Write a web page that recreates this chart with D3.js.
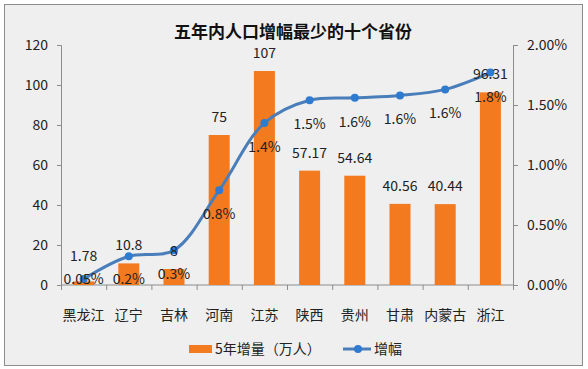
<!DOCTYPE html>
<html><head><meta charset="utf-8">
<script src="https://cdn.jsdelivr.net/npm/d3@7"></script>
<style>
html,body{margin:0;padding:0;background:#fff;}
svg{display:block;font-family:"Noto Sans CJK SC","Noto Sans",sans-serif;}
</style></head>
<body><svg id="c" width="588" height="369"></svg>
<script>
const categories = ["黑龙江","辽宁","吉林","河南","江苏","陕西","贵州","甘肃","内蒙古","浙江"];
const increase = [1.78, 10.8, 8, 75, 107, 57.17, 54.64, 40.56, 40.44, 96.31];
const increaseLabels = ["1.78","10.8","8","75","107","57.17","54.64","40.56","40.44","96.31"];
const growth = [0.05, 0.24, 0.29, 0.79, 1.35, 1.54, 1.56, 1.58, 1.63, 1.77];
const growthLabels = ["0.05%","0.2%","0.3%","0.8%","1.4%","1.5%","1.6%","1.6%","1.6%","1.8%"];
const leftTicks = [0,20,40,60,80,100,120];
const rightTicks = [0,0.5,1,1.5,2];
const title = "五年内人口增幅最少的十个省份";
const legendBar = "5年增量（万人）";
const legendLine = "增幅";

const svg = d3.select("#c");
const m = {l:61, r:513, t:45, b:285};
const orange = "#F47A20", blue = "#4A7EBB", dot = "#2F7BD0";

svg.append("rect").attr("x",4.5).attr("y",4.5).attr("width",578).attr("height",361)
  .attr("fill","#efefef").attr("stroke","#8c8c8c").attr("stroke-width",1);

const x = d3.scaleBand().domain(categories).range([m.l, m.r]).paddingInner(0).paddingOuter(0);
const yL = d3.scaleLinear().domain([0,120]).range([m.b, m.t]);
const yR = d3.scaleLinear().domain([0,2]).range([m.b, m.t]);

svg.append("text").attr("x",293).attr("y",38).attr("text-anchor","middle")
  .attr("font-size",17).attr("font-weight","bold").attr("fill","#111").text(title);

const gL = svg.append("g").attr("transform",`translate(${m.l},0)`)
  .call(d3.axisLeft(yL).tickValues(leftTicks).tickSize(4).tickPadding(9).tickFormat(d3.format("d")));
const gR = svg.append("g").attr("transform",`translate(${m.r},0)`)
  .call(d3.axisRight(yR).tickValues(rightTicks).tickSize(5).tickPadding(9).tickFormat(d=>d3.format(".2f")(d)+"%"));
const xb = d3.scaleLinear().domain([0,categories.length]).range([m.l,m.r]);
const gB = svg.append("g").attr("transform",`translate(0,${m.b})`)
  .call(d3.axisBottom(xb).tickValues(d3.range(0,categories.length+1)).tickSize(5).tickFormat(""));
[gL,gR,gB].forEach(g=>{
  g.select(".domain").attr("stroke","#8c8c8c");
  g.selectAll(".tick line").attr("stroke","#8c8c8c");
  g.selectAll("text").attr("font-size",14).attr("fill","#222")
   .attr("font-family","'Noto Sans CJK SC','Noto Sans',sans-serif");
});
gB.select(".domain").attr("d",`M${m.l},0H${m.r}`);

svg.append("g").selectAll("text").data(categories).join("text")
  .attr("x",d=>x(d)+x.bandwidth()/2).attr("y",320).attr("text-anchor","middle")
  .attr("font-size",14).attr("fill","#222").text(d=>d);

const bw = x.bandwidth()*0.465;
svg.append("g").selectAll("rect").data(increase).join("rect")
  .attr("x",(d,i)=>x(categories[i])+x.bandwidth()/2-bw/2)
  .attr("y",d=>yL(d)).attr("width",bw).attr("height",d=>yL(0)-yL(d))
  .attr("fill",orange);

const pts = growth.map((v,i)=>[x(categories[i])+x.bandwidth()/2, yR(v)]);
svg.append("path").attr("d",d3.line().curve(d3.curveCatmullRom.alpha(0.5))(pts))
  .attr("fill","none").attr("stroke",blue).attr("stroke-width",3);
svg.append("g").selectAll("circle").data(pts).join("circle")
  .attr("cx",d=>d[0]).attr("cy",d=>d[1]).attr("r",4).attr("fill",dot);

svg.append("g").selectAll("text").data(increase).join("text")
  .attr("x",(d,i)=>x(categories[i])+x.bandwidth()/2)
  .attr("y",d=>Math.min(yL(d)-13, 261)).attr("text-anchor","middle")
  .attr("font-size",14).attr("fill","#222").text((d,i)=>increaseLabels[i]);

svg.append("g").selectAll("text").data(growth).join("text")
  .attr("x",(d,i)=>x(categories[i])+x.bandwidth()/2)
  .attr("y",d=>Math.min(yR(d)+29, 284)).attr("text-anchor","middle")
  .attr("font-size",14).attr("fill","#222").text((d,i)=>growthLabels[i]);

const lg = svg.append("g");
lg.append("rect").attr("x",189).attr("y",345).attr("width",23).attr("height",8).attr("fill",orange);
lg.append("text").attr("x",215).attr("y",354).attr("font-size",14).attr("fill","#222").text(legendBar);
lg.append("line").attr("x1",343).attr("x2",371).attr("y1",349).attr("y2",349).attr("stroke",blue).attr("stroke-width",3);
lg.append("circle").attr("cx",358).attr("cy",349).attr("r",4).attr("fill",dot);
lg.append("text").attr("x",374).attr("y",354).attr("font-size",14).attr("fill","#222").text(legendLine);
</script></body></html>
